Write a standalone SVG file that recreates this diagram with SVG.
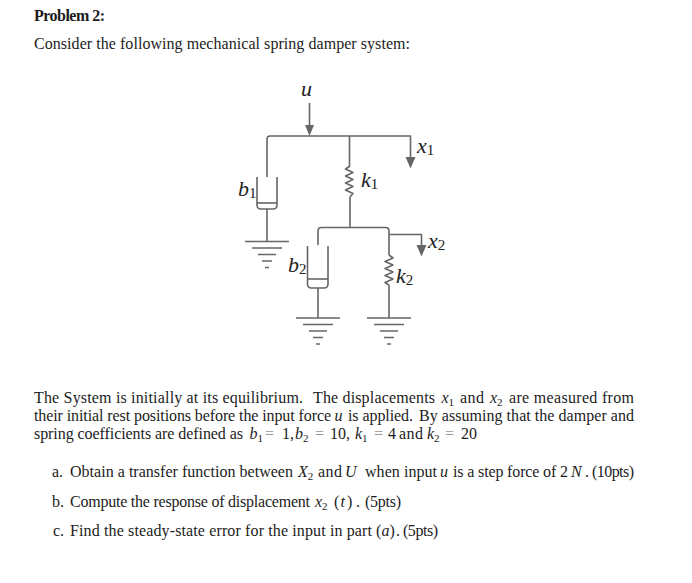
<svg xmlns="http://www.w3.org/2000/svg" width="692" height="583" viewBox="0 0 692 583">
<style>
text{font-family:"Liberation Serif","Times New Roman",serif;font-size:16px;fill:#1c1c1c}
.b{font-weight:bold}
.i{font-style:italic}
.s{font-size:11px}
.m{font-size:22px;font-style:italic;fill:#222}
.ms{font-size:15px;fill:#222;font-style:normal}
.e{fill:#999}
.l{fill:none;stroke:#666;stroke-width:1.6;stroke-linejoin:round}
.g{stroke:#666;stroke-width:1.6;fill:none}
.h{fill:#666}
</style>
<defs>
<g id="gnd"><path class="g" d="M-22 0H22M-15 6.500H15M-9 13H9M-5 19.500H5M-2 26H2"/></g>
</defs>

<g id="heading">
<text class="b" x="34" y="21" textLength="71" lengthAdjust="spacing">Problem 2:</text>
<text x="34" y="49" textLength="376" lengthAdjust="spacing">Consider the following mechanical spring damper system:</text>
</g>

<g id="connectors">
<path class="l" d="M309.500 103V126"/>
<path class="h" d="M305 125H314L309.500 136Z"/>
<path class="l" d="M267 177V139Q267 136 270 136H410.500V158"/>
<path class="h" d="M405.500 157H415.500L410.500 168.500Z"/>
<path class="l" d="M349.500 136V166"/>
<path class="l" d="M350 197V227.500"/>
<path class="l" d="M267 209V241.500"/>
<path class="l" d="M318 245V231Q318 227.500 321.500 227.500H385.500Q389 227.500 389 231V255"/>
<path class="l" d="M389 234.500H421.500V246"/>
<path class="h" d="M416.500 245H426.500L421.500 256.500Z"/>
<path class="l" d="M318 288V318"/>
<path class="l" d="M389 285V318"/>
</g>

<g id="damper-b1">
<path class="l" d="M257 177V205Q257 209 261 209H273Q277 209 277 205V177"/>
<path class="l" d="M257 203H277"/>
</g>
<g id="spring-k1"><path class="l" d="M350 166L345.500 169L353 172.500L345.500 176L353 179.500L345.500 183L353 186.500L345.500 190L353 193.500L350 197"/></g>
<g id="damper-b2">
<path class="l" d="M307.500 246V284Q307.500 288 311.500 288H324Q328 288 328 284V246"/>
<path class="l" d="M307.500 279H328"/>
</g>
<g id="spring-k2"><path class="l" d="M389 255L393 258L385 261.500L393 265L385 268.500L393 272L385 275.500L393 279L385 282.500L389 285"/></g>
<g id="ground-1"><use href="#gnd" x="267" y="241.500"/></g>
<g id="ground-2"><use href="#gnd" x="318" y="318"/></g>
<g id="ground-3"><use href="#gnd" x="389" y="318"/></g>

<g id="labels">
<text class="m" x="301" y="96">u</text>
<text class="m" x="417" y="153">x<tspan class="ms" dy="2">1</tspan></text>
<text class="m" x="238" y="196">b<tspan class="ms" dy="2">1</tspan></text>
<text class="m" x="361" y="187">k<tspan class="ms" dy="2">1</tspan></text>
<text class="m" x="428" y="248">x<tspan class="ms" dy="2">2</tspan></text>
<text class="m" x="288" y="272">b<tspan class="ms" dy="2">2</tspan></text>
<text class="m" x="396" y="283">k<tspan class="ms" dy="2">2</tspan></text>
</g>

<g id="paragraph">
<text x="34" y="403" textLength="269" lengthAdjust="spacing">The System is initially at its equilibrium.</text>
<text x="313" y="403" textLength="122" lengthAdjust="spacing">The displacements</text>
<text class="i" x="441.500" y="403">x<tspan class="s" font-style="normal" dy="3">1</tspan></text>
<text x="460" y="403" textLength="24" lengthAdjust="spacing">and</text>
<text class="i" x="490" y="403">x<tspan class="s" font-style="normal" dy="3">2</tspan></text>
<text x="509" y="403" textLength="125" lengthAdjust="spacing">are measured from</text>

<text x="34" y="421" textLength="297" lengthAdjust="spacing">their initial rest positions before the input force</text>
<text class="i" x="334.500" y="421">u</text>
<text x="348" y="421" textLength="65" lengthAdjust="spacing">is applied.</text>
<text x="419" y="421" textLength="215" lengthAdjust="spacing">By assuming that the damper and</text>

<text x="34" y="439" textLength="209" lengthAdjust="spacing">spring coefficients are defined as</text>
<text class="i" x="249.500" y="439">b<tspan class="s" font-style="normal" dy="3">1</tspan></text>
<text class="e" x="265" y="439">=</text><text x="282" y="439">1,</text>
<text class="i" x="295" y="439">b<tspan class="s" font-style="normal" dy="3">2</tspan></text>
<text class="e" x="315" y="439">=</text><text x="330" y="439">10,</text>
<text class="i" x="355" y="439">k<tspan class="s" font-style="normal" dy="3">1</tspan></text>
<text class="e" x="374" y="439">=</text><text x="388" y="439">4</text>
<text x="399" y="439" textLength="24" lengthAdjust="spacing">and</text>
<text class="i" x="427" y="439">k<tspan class="s" font-style="normal" dy="3">2</tspan></text>
<text class="e" x="445" y="439">=</text><text x="461" y="439">20</text>
</g>

<g id="questions">
<text x="52" y="477">a.</text>
<text x="70" y="477" textLength="223" lengthAdjust="spacing">Obtain a transfer function between</text>
<text class="i" x="298" y="477">X<tspan class="s" font-style="normal" dy="3">2</tspan></text>
<text x="318" y="477" textLength="24" lengthAdjust="spacing">and</text>
<text class="i" x="345" y="477">U</text>
<text x="365" y="477" textLength="72" lengthAdjust="spacing">when input</text>
<text class="i" x="440" y="477">u</text>
<text x="453" y="477" textLength="115" lengthAdjust="spacing">is a step force of 2</text>
<text class="i" x="571" y="477">N</text>
<text x="585" y="477">.</text>
<text x="592" y="477" textLength="42" lengthAdjust="spacing">(10pts)</text>

<text x="52" y="507">b.</text>
<text x="70" y="507" textLength="240" lengthAdjust="spacing">Compute the response of displacement</text>
<text class="i" x="315" y="507">x<tspan class="s" font-style="normal" dy="3">2</tspan></text>
<text x="334" y="507">(</text><text class="i" x="340.500" y="507">t</text><text x="347" y="507">)</text>
<text x="356" y="507">.</text>
<text x="365" y="507" textLength="36" lengthAdjust="spacing">(5pts)</text>

<text x="53" y="536">c.</text>
<text x="70" y="536" textLength="302" lengthAdjust="spacing">Find the steady-state error for the input in part</text>
<text x="376" y="536">(</text><text class="i" x="381.500" y="536">a</text><text x="389.500" y="536">)</text>
<text x="396" y="536">.</text>
<text x="403" y="536" textLength="35" lengthAdjust="spacing">(5pts)</text>
</g>
</svg>
